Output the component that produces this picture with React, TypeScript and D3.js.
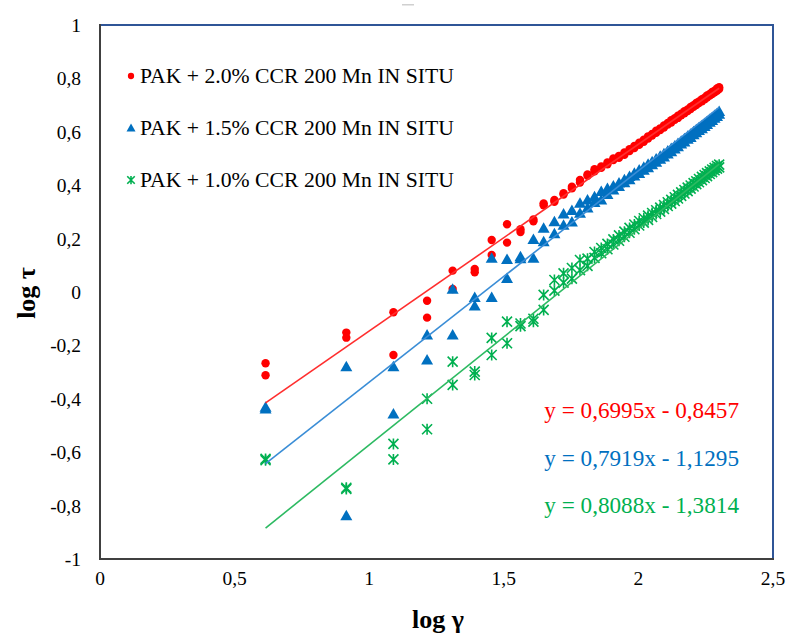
import React from "react";
import * as d3 from "d3";

// log γ values (shared by all series)
const logGamma = [
  0.615, 0.915, 1.09, 1.215, 1.31, 1.392, 1.455, 1.512, 1.562, 1.61,
  1.648, 1.688, 1.722, 1.753, 1.783, 1.811, 1.837, 1.862, 1.885, 1.907,
  1.928, 1.948, 1.967, 1.985, 2.003, 2.02, 2.036, 2.051, 2.066, 2.081,
  2.095, 2.109, 2.122, 2.135, 2.147, 2.159, 2.171, 2.183, 2.194, 2.205,
  2.215, 2.225, 2.236, 2.246, 2.255, 2.265, 2.274, 2.283, 2.292, 2.3,
];

// PAK + 2.0% (two measurement passes)
const red20A = [
  -0.267, -0.152, -0.076, -0.033, 0.08, 0.086, 0.195, 0.254, 0.235, 0.272,
  0.332, 0.345, 0.37, 0.394, 0.42, 0.44, 0.46, 0.47, 0.485, 0.5,
  0.51, 0.523, 0.535, 0.547, 0.559, 0.57, 0.583, 0.592, 0.604, 0.613,
  0.624, 0.633, 0.643, 0.651, 0.66, 0.668, 0.677, 0.684, 0.693, 0.7,
  0.708, 0.714, 0.722, 0.728, 0.736, 0.742, 0.749, 0.754, 0.762, 0.767,
];
const red20B = [
  -0.312, -0.171, -0.236, -0.096, 0.011, 0.074, 0.139, 0.185, 0.225, 0.265,
  0.325, 0.338, 0.365, 0.388, 0.41, 0.435, 0.452, 0.465, 0.478, 0.494,
  0.503, 0.514, 0.528, 0.539, 0.551, 0.563, 0.575, 0.586, 0.596, 0.607,
  0.616, 0.627, 0.635, 0.645, 0.652, 0.662, 0.669, 0.678, 0.685, 0.694,
  0.7, 0.708, 0.714, 0.722, 0.728, 0.736, 0.741, 0.748, 0.754, 0.76,
];

// PAK + 1.5%
const blue15A = [
  -0.432, -0.28, -0.28, -0.161, 0.01, -0.021, 0.126, 0.122, 0.132, 0.197,
  0.239, 0.263, 0.292, 0.305, 0.332, 0.345, 0.357, 0.376, 0.388, 0.397,
  0.408, 0.42, 0.433, 0.445, 0.457, 0.467, 0.478, 0.488, 0.498, 0.508,
  0.518, 0.528, 0.537, 0.547, 0.556, 0.565, 0.574, 0.583, 0.591, 0.6,
  0.608, 0.615, 0.623, 0.63, 0.638, 0.646, 0.653, 0.661, 0.668, 0.676,
];
const blue15B = [
  -0.438, -0.838, -0.457, -0.255, -0.161, -0.052, -0.021, 0.051, 0.125, 0.126,
  0.188, 0.218, 0.25, 0.262, 0.295, 0.315, 0.335, 0.345, 0.365, 0.382,
  0.395, 0.409, 0.42, 0.434, 0.444, 0.456, 0.465, 0.477, 0.486, 0.497,
  0.506, 0.517, 0.525, 0.536, 0.544, 0.554, 0.562, 0.572, 0.579, 0.589,
  0.596, 0.605, 0.611, 0.62, 0.627, 0.636, 0.642, 0.651, 0.657, 0.666,
];

// PAK + 1.0%
const green10A = [
  -0.625, -0.733, -0.569, -0.4, -0.261, -0.298, -0.172, -0.111, -0.118, -0.111,
  -0.011, 0.045, 0.07, 0.09, 0.12, 0.125, 0.15, 0.165, 0.18, 0.197,
  0.212, 0.226, 0.24, 0.253, 0.266, 0.276, 0.286, 0.296, 0.306, 0.316,
  0.326, 0.336, 0.345, 0.355, 0.364, 0.373, 0.382, 0.391, 0.399, 0.408,
  0.415, 0.423, 0.431, 0.438, 0.445, 0.452, 0.459, 0.465, 0.472, 0.477,
];
const green10B = [
  -0.63, -0.738, -0.627, -0.514, -0.348, -0.311, -0.236, -0.192, -0.128, -0.1,
  -0.067, 0.005, 0.035, 0.05, 0.082, 0.098, 0.128, 0.145, 0.16, 0.178,
  0.192, 0.207, 0.222, 0.235, 0.249, 0.26, 0.27, 0.281, 0.292, 0.301,
  0.311, 0.322, 0.331, 0.341, 0.35, 0.36, 0.369, 0.378, 0.387, 0.395,
  0.404, 0.411, 0.419, 0.427, 0.434, 0.442, 0.449, 0.456, 0.462, 0.467,
];

const seriesNames = [
  "PAK + 2.0% CCR 200 Mn IN SITU",
  "PAK + 1.5% CCR 200 Mn IN SITU",
  "PAK + 1.0% CCR 200 Mn IN SITU",
];
const slopes = [0.6995, 0.7919, 0.8088];
const intercepts = [-0.8457, -1.1295, -1.3814];
const equationLabels = [
  "y = 0,6995x - 0,8457",
  "y = 0,7919x - 1,1295",
  "y = 0,8088x - 1,3814",
];

const xTicks = [0, 0.5, 1, 1.5, 2, 2.5];
const yTicks = [-1, -0.8, -0.6, -0.4, -0.2, 0, 0.2, 0.4, 0.6, 0.8, 1];

const markerColors = ["#FF0000", "#0070C0", "#00B050"];
const lineColors = ["#FF2E2E", "#3A8DD6", "#2DBA62"];
const FONT = "'Liberation Serif', 'Times New Roman', serif";

const fmt = (v: number) => {
  const s = d3.format("")(Math.round(v * 10) / 10);
  return s.replace(".", ",").replace("−", "-");
};

function Marker({ kind, x, y, s = 1 }: { kind: number; x: number; y: number; s?: number }) {
  if (kind === 0) return <circle cx={x} cy={y} r={4.2 * s} fill={markerColors[0]} />;
  if (kind === 1) {
    const w = 6 * s, t = 6 * s, b = 4.5 * s;
    return <path d={`M${x},${y - t}L${x + w},${y + b}L${x - w},${y + b}Z`} fill={markerColors[1]} />;
  }
  const r = 5 * s;
  return (
    <path
      d={`M${x - r},${y - r}L${x + r},${y + r}M${x - r},${y + r}L${x + r},${y - r}M${x},${y - r * 1.1}L${x},${y + r * 1.1}`}
      stroke={markerColors[2]}
      strokeWidth={1.6}
      fill="none"
    />
  );
}

export default function App() {
  const x = d3.scaleLinear().domain([0, 2.5]).range([100, 773]);
  const y = d3.scaleLinear().domain([-1, 1]).range([559, 25]);
  const data = [
    [red20A, red20B],
    [blue15A, blue15B],
    [green10A, green10B],
  ];
  const x0 = d3.min(logGamma) as number;
  const x1 = d3.max(logGamma) as number;
  const line = d3.line<number>().x((d) => x(d[0])).y((d) => y(d[1]));

  return (
    <svg width={789} height={635} style={{ position: "absolute", left: 0, top: 0, background: "#fff" }}>
      <rect x={0} y={0} width={789} height={635} fill="#fff" />
      <rect x={402} y={4} width={12} height={1.5} fill="#D0D0D0" />
      {/* plot frame */}
      <rect x={100} y={25} width={673} height={534} fill="none" stroke="#2F5597" strokeWidth={2} />
      <line x1={100} y1={24} x2={100} y2={560} stroke="#404040" strokeWidth={2} />
      <line x1={99} y1={559} x2={774} y2={559} stroke="#404040" strokeWidth={2} />

      {/* tick labels */}
      {yTicks.map((t) => (
        <text key={"y" + t} x={81} y={y(t) + 7} textAnchor="end" fontFamily={FONT} fontSize={19.5} fill="#000">
          {fmt(t)}
        </text>
      ))}
      {xTicks.map((t) => (
        <text key={"x" + t} x={x(t)} y={585} textAnchor="middle" fontFamily={FONT} fontSize={19.5} fill="#000">
          {fmt(t)}
        </text>
      ))}

      {/* axis titles */}
      <text x={438} y={628} textAnchor="middle" fontFamily={FONT} fontSize={26} fontWeight="bold">
        log γ
      </text>
      <text
        transform={`translate(35,293) rotate(-90)`}
        textAnchor="middle"
        fontFamily={FONT}
        fontSize={26}
        fontWeight="bold"
      >
        log τ
      </text>

      {/* markers */}
      {data.map((pair, si) =>
        pair.map((vals, pi) =>
          vals.map((v, i) => <Marker key={`${si}-${pi}-${i}`} kind={si} x={x(logGamma[i])} y={y(v)} />)
        )
      )}

      {/* trendlines */}
      {slopes.map((m, i) => (
        <path
          key={"tl" + i}
          d={line([
            [x0, m * x0 + intercepts[i]],
            [x1, m * x1 + intercepts[i]],
          ]) as string}
          stroke={lineColors[i]}
          strokeWidth={1.6}
          fill="none"
        />
      ))}

      {/* legend */}
      {seriesNames.map((n, i) => (
        <g key={"lg" + i}>
          <Marker kind={i} x={131} y={76 + i * 52} s={0.75} />
          <text x={140} y={83 + i * 52} fontFamily={FONT} fontSize={21.7} fill="#000">
            {n}
          </text>
        </g>
      ))}

      {/* equations */}
      {equationLabels.map((e, i) => (
        <text
          key={"eq" + i}
          x={739}
          y={418 + i * 47.5}
          textAnchor="end"
          fontFamily={FONT}
          fontSize={23.2}
          fill={markerColors[i]}
        >
          {e}
        </text>
      ))}
    </svg>
  );
}
